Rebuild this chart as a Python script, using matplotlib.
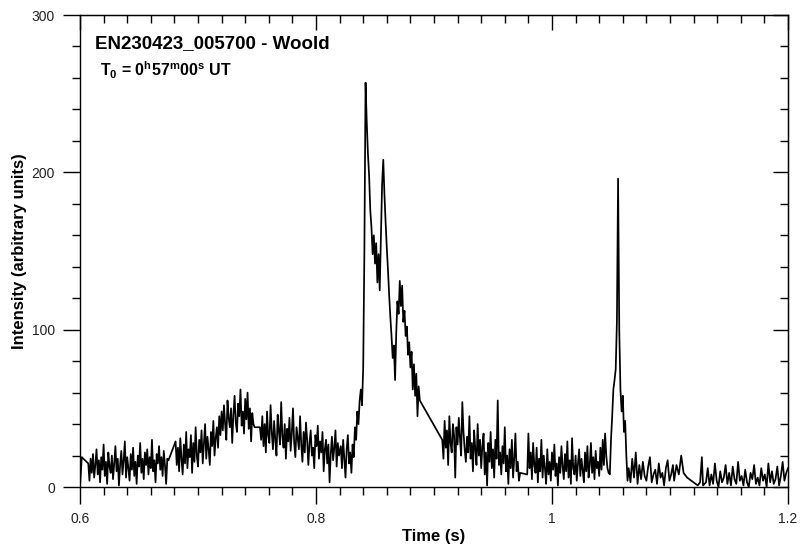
import matplotlib
matplotlib.use("Agg")
import matplotlib.pyplot as plt
import numpy as np
from matplotlib.ticker import MultipleLocator

plt.rcParams['font.family'] = ['Liberation Sans', 'DejaVu Sans']
plt.rcParams['mathtext.fontset'] = 'custom'
plt.rcParams['mathtext.rm'] = 'Liberation Sans'
plt.rcParams['mathtext.bf'] = 'Liberation Sans:bold'

# light curve, segment by segment (start, end, values)
seg1_t = [0.600, 0.6015]
seg1_v = [0, 19]

seg2_v = [15, 4, 18, 9, 21, 6, 14, 24, 8, 17,
          3, 19, 11, 27, 7, 16, 2, 22, 13, 9,
          20, 5, 15, 26, 10, 18, 1, 14, 23, 8,
          17, 29, 6, 19, 12, 4, 21, 11, 25, 7,
          16, 2, 20, 13, 28, 9, 18, 5, 22, 14,
          24, 8, 19, 12, 30, 10, 17, 3, 21, 15,
          26, 11, 19, 7, 23, 14, 2, 18, 17]

seg3_v = [29, 14, 25, 10, 31, 18, 8, 27, 15, 35,
          12, 24, 19, 33, 9, 28, 16, 38, 20, 13,
          30, 22, 36, 15, 27, 40, 18, 32, 24, 14,
          35, 26, 42, 20, 31, 38, 25, 45, 33, 48,
          36, 52, 40, 30, 55, 44, 38, 50, 28, 46,
          58, 41, 35, 53, 45, 62, 39, 48, 34, 56,
          43, 60, 37, 50, 29, 47, 40, 38]

seg4_v = [38, 30, 45, 26, 40, 22, 48, 33, 28, 52,
          35, 24, 42, 30, 20, 46, 36, 27, 54, 32,
          25, 40, 18, 37, 29, 44, 23, 34, 50, 28,
          19, 38, 31, 24, 45, 27, 16, 35, 22, 41,
          30, 14, 28, 36, 20, 25, 12, 33, 26, 39,
          18, 29, 22, 35, 10, 24, 30, 15, 27, 3,
          21, 32, 17, 25, 36, 13, 28, 20]

# main flare
seg5_v = [26, 12, 30, 18, 6, 24, 33, 15, 22, 9,
          27, 19, 38, 30, 48, 40, 55, 62, 52, 76,
          150, 257, 232, 212, 198, 176, 165, 148, 160, 142,
          155, 130, 148, 125, 160, 192, 208, 186, 168, 152,
          138, 122, 108, 96, 82, 90, 68, 98, 118, 110,
          131, 115, 128, 105, 112, 96, 102, 84, 92, 76,
          86, 62, 78, 58, 72, 45, 64, 55]

seg6_v = [30, 18, 42, 25, 36, 14, 45, 28, 22, 40,
          33, 6, 38, 27, 44, 31, 20, 54, 35, 24,
          16, 32, 22, 45, 18, 28, 10, 36, 24, 14,
          40, 20, 30, 12, 26, 34, 8, 22, 1, 28,
          16, 35, 12, 24, 6, 30, 18, 55, 14, 22,
          8, 26, 15, 38, 10, 20, 2, 24, 12, 30,
          6, 18, 34, 10, 16, 4, 9]

# second flare
seg7_v = [8, 34, 12, 22, 5, 28, 14, 9, 25, 3,
          18, 10, 30, 6, 20, 12, 2, 24, 8, 16,
          4, 22, 11, 27, 7, 15, 1, 19, 9, 26,
          13, 5, 21, 10, 29, 6, 17, 2, 31, 12,
          8, 20, 4, 15, 24, 7, 18, 11, 3, 22,
          10, 26, 6, 14, 28, 9, 19, 5, 23, 12,
          16, 7, 25, 11, 30, 14, 34, 20, 12, 9,
          8, 30, 45, 62, 68, 75, 105, 196, 100, 62,
          48, 58, 35, 42, 20, 4]

seg8_v = [12, 3, 18, 6, 22, 2, 14, 5, 16, 7,
          4, 13, 19, 3, 8, 11, 2, 15, 6, 9,
          1, 12, 17, 4, 8, 14]

seg9_t = [1.1035, 1.1055, 1.1075, 1.1095, 1.1115, 1.1145, 1.1235, 1.1255, 1.127, 1.128]
seg9_v = [4, 14, 8, 20, 9, 6, 1, 3, 19, 1]

seg10_v = [3, 12, 1, 8, 2, 15, 4, 0, 10, 3,
           6, 14, 2, 9, 1, 13, 5, 2, 16, 4,
           7, 1, 11, 3, 0, 9, 5, 14, 2, 6,
           1, 12, 4, 8, 0, 15, 3, 10, 2, 5,
           13, 1, 7, 16, 4, 9, 12]

segments = [
    (0.607, 0.675, seg2_v),
    (0.681, 0.748, seg3_v),
    (0.7525, 0.8195, seg4_v),
    (0.821, 0.888, seg5_v),
    (0.907, 0.973, seg6_v),
    (0.979, 1.064, seg7_v),
    (1.065, 1.1025, seg8_v),
]

t_parts = [np.array(seg1_t)]
v_parts = [np.array(seg1_v)]
for t0, t1, vals in segments:
    t_parts.append(np.linspace(t0, t1, len(vals)))
    v_parts.append(np.array(vals))
t_parts.append(np.array(seg9_t))
v_parts.append(np.array(seg9_v))
t_parts.append(np.linspace(1.1305, 1.2, len(seg10_v)))
v_parts.append(np.array(seg10_v))

t = np.concatenate(t_parts)
v = np.concatenate(v_parts)

fig = plt.figure(figsize=(8, 5.46), dpi=100)
ax = fig.add_axes([0.1, 0.108, 0.885, 0.8645])
ax.plot(t, v, color='black', lw=1.25)

ax.set_xlim(0.6, 1.2)
ax.set_ylim(0, 300)
ax.xaxis.set_minor_locator(MultipleLocator(0.02))
ax.yaxis.set_major_locator(MultipleLocator(100))
ax.yaxis.set_minor_locator(MultipleLocator(20))
ax.set_xticks([0.6, 0.8, 1.0, 1.2])
ax.set_xticklabels(['0.6', '0.8', '1', '1.2'])

ax.tick_params(which='major', direction='out', length=12, width=1,
               labelsize=10, labelcolor='#222222', pad=6)
ax.tick_params(which='minor', direction='out', length=6, width=1)
for s in ax.spines.values():
    s.set_linewidth(1)

# top and right: inward ticks, no labels
secx = ax.secondary_xaxis('top')
secx.xaxis.set_major_locator(MultipleLocator(0.2))
secx.xaxis.set_minor_locator(MultipleLocator(0.02))
secx.tick_params(which='major', direction='in', length=11, width=1, labeltop=False)
secx.tick_params(which='minor', direction='in', length=6, width=1)
secy = ax.secondary_yaxis('right')
secy.yaxis.set_major_locator(MultipleLocator(100))
secy.yaxis.set_minor_locator(MultipleLocator(20))
secy.tick_params(which='major', direction='in', length=11, width=1, labelright=False)
secy.tick_params(which='minor', direction='in', length=6, width=1)

ax.set_xlabel('Time (s)', fontsize=12, fontweight='bold', labelpad=2)
ax.set_ylabel('Intensity (arbitrary units)', fontsize=12, fontweight='bold', labelpad=3)

ax.text(0.021, 0.94, 'EN230423_005700 - Woold', transform=ax.transAxes,
        fontsize=13.5, fontweight='bold', va='center', ha='left')
ax.text(0.028, 0.882, r'$\mathbf{T_0}$ = 0$^\mathbf{h}$57$^\mathbf{m}$00$^\mathbf{s}$ UT',
        transform=ax.transAxes, fontsize=11.5, fontweight='bold', va='center', ha='left')

fig.savefig('out.png', dpi=100)
